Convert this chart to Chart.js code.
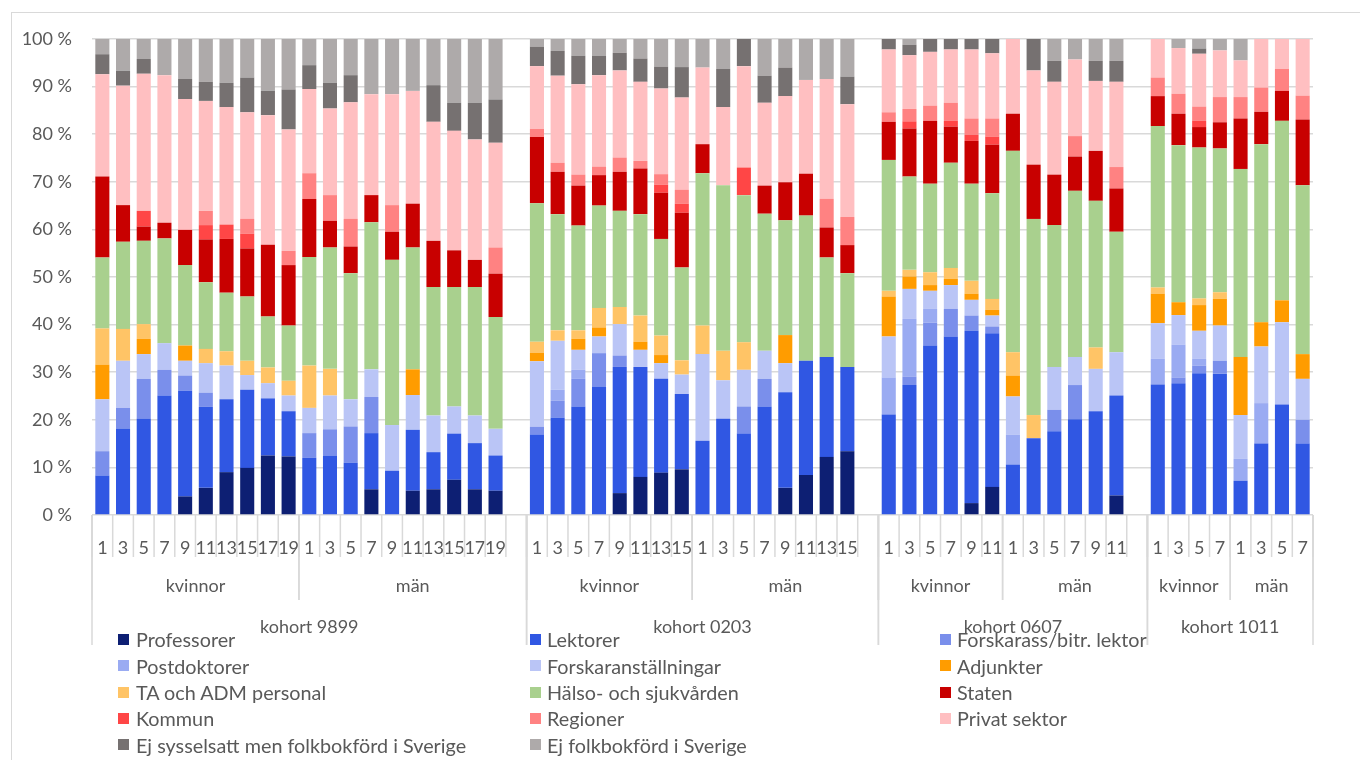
<!DOCTYPE html>
<html>
<head>
<meta charset="utf-8">
<script src="https://cdn.jsdelivr.net/npm/chart.js@4/dist/chart.umd.min.js"></script>
<style>
  body { margin: 0; background: #fff; font-family: Lato, sans-serif; }
  #wrap { position: relative; width: 1360px; height: 760px; overflow: hidden; }
  #frame { position: absolute; left: 11px; top: 12px; width: 1400px; height: 800px; border: 1px solid #D9D9D9; }
  canvas { position: absolute; left: 0; top: 0; }
  .item { position: absolute; font-size: 19.8px; color: #595959; white-space: nowrap; line-height: 22px; }
  .item i { position: absolute; left: 0; top: 5.5px; width: 11px; height: 11px; }
</style>
</head>
<body>
<div id="wrap">
  <div id="frame"></div>
  <canvas id="chart" width="1360" height="760"></canvas>
  <div id="legend"></div>
</div>
<script>
// Kategorier
const cohorts = ["kohort 9899", "kohort 0203", "kohort 0607", "kohort 1011"];
const genders = ["kvinnor", "män"];
const years9899 = ["1", "3", "5", "7", "9", "11", "13", "15", "17", "19"];
const years0203 = ["1", "3", "5", "7", "9", "11", "13", "15"];
const years0607 = ["1", "3", "5", "7", "9", "11"];
const years1011 = ["1", "3", "5", "7"];

// Andelar (%) per stapel: 9899 k/m, 0203 k/m, 0607 k/m, 1011 k/m
const professorer = [0,0,0,0,3.9,5.7,9.0,9.9,12.5,12.3, 0,0,0,5.4,0,5.1,5.4,7.4,5.4,5.1, 0,0,0,0,4.6,8.0,8.9,9.6, 0,0,0,0,5.7,8.4,12.2,13.4, 0,0,0,0,2.5,5.9, 0,0,0,0,0,4.1, 0,0,0,0, 0,0,0,0];
const lektorer = [8.3,18.1,20.2,25.1,22.2,17.0,15.3,16.4,12.0,9.5, 12.0,12.5,11.0,11.8,9.3,12.8,7.8,9.7,9.7,7.4, 16.9,20.5,22.8,27.0,26.5,23.1,19.7,15.8, 15.6,20.2,17.1,22.8,20.1,24.0,21.0,17.7, 21.1,27.3,35.6,37.5,36.2,32.3, 10.6,16.1,17.6,20.1,21.8,21.0, 27.4,27.7,29.8,29.7, 7.2,15.0,23.2,15.0];
const forskarass = [5.1,4.4,8.4,5.4,3.2,3.0,0,0,0,0, 5.2,5.5,7.6,7.6,0,0,0,0,0,0, 1.6,3.5,5.8,7.0,2.4,0,0,0, 0,0,5.7,5.8,0,0,0,0, 0,1.8,4.8,5.8,3.2,1.4, 0,0,4.5,7.2,0,0, 0,1.2,1.6,2.7, 0,0,0,5.0];
const postdoktorer = [0,0,0,0,0,0,0,0,0,0, 0,0,0,0,0,0,0,0,0,0, 0,2.3,1.9,0,0,0,0,0, 0,0,0,0,0,0,0,0, 7.8,12.1,2.9,0,0,0, 6.3,0,0,0,0,0, 5.4,6.9,1.4,0, 4.6,8.5,0,0];
const forskaranst = [10.9,9.9,5.2,5.6,3.1,6.2,7.1,3.1,3.2,3.3, 5.3,7.1,5.7,5.8,9.6,7.3,7.7,5.7,5.8,5.6, 13.8,10.3,4.2,3.5,6.6,3.6,3.3,4.1, 18.2,8.1,7.7,5.9,6.1,0,0,0, 8.6,6.3,3.8,5.0,3.3,2.3, 8.0,0,9.0,5.9,8.9,9.1, 7.5,6.2,5.9,7.4, 9.2,11.9,17.3,8.6];
const adjunkter = [7.3,0,3.2,0,3.2,0,0,0,0,0, 0,0,0,0,0,5.4,0,0,0,0, 1.8,0,2.3,1.9,0,1.7,1.7,0, 0,0,0,0,5.9,0,0,0, 8.4,2.6,1.2,1.3,1.3,1.2, 4.4,0,0,0,0,0, 6.2,2.7,5.4,5.6, 12.2,5.1,4.6,5.2];
const taAdm = [7.6,6.7,3.1,0,0,3.0,3.0,3.0,3.3,3.1, 8.9,5.6,0,0,0,0,0,0,0,0, 2.3,2.2,1.8,4.1,3.6,5.5,4.1,3.0, 6.0,6.2,5.8,0,0,0,0,0, 1.2,1.4,2.7,2.3,2.7,2.3, 4.9,4.9,0,0,4.5,0, 1.3,0,1.4,1.4, 0,0,0,0];
const halso = [14.9,18.3,17.5,22.0,16.9,14.0,12.3,13.5,10.7,11.6, 22.8,25.5,26.5,30.9,34.7,25.6,27.0,25.1,27.0,23.5, 29.1,24.4,22.0,21.5,20.2,21.3,20.3,19.5, 32.0,34.8,30.9,28.8,24.1,30.5,20.9,19.7, 27.5,19.6,18.6,22.1,20.4,22.2, 42.3,41.2,29.8,34.9,30.8,25.3, 33.9,33.0,31.7,30.2, 39.5,37.4,37.7,35.5];
const staten = [17.0,7.7,3.0,3.3,7.4,9.0,11.3,10.1,15.1,12.7, 12.2,5.6,5.6,5.7,5.9,9.2,9.7,7.7,5.7,9.1, 13.9,8.9,8.4,6.4,8.2,9.6,9.7,11.5, 6.1,0,0,5.9,8.0,8.8,6.3,5.9, 8.0,10.1,13.2,7.6,9.0,10.2, 7.8,11.4,10.6,7.2,10.5,9.1, 6.3,6.6,4.3,5.5, 10.6,6.8,6.3,13.8];
const kommun = [0,0,3.3,0,0,3.0,3.0,3.1,0,0, 0,0,0,0,0,0,0,0,0,0, 0,0,0,0,0,0,1.7,1.9, 0,0,5.8,0,0,0,0,0, 0,1.5,0,1.2,1.3,1.7, 0,0,0,0,0,0, 0,0,1.3,0, 0,0,0,0];
const regioner = [0,0,0,0,0,3.0,0,3.1,0,3.0, 5.4,5.4,5.8,0,5.6,0,0,0,0,5.5, 1.7,1.9,2.3,1.8,3.0,1.6,2.2,2.9, 0,0,0,0,0,0,6.0,5.9, 2.0,2.6,3.2,3.8,3.4,3.8, 0,0,0,4.3,0,4.5, 3.9,4.2,3.0,5.3, 4.5,5.1,4.6,5.0];
const privat = [21.5,25.1,28.8,31.0,27.5,23.1,24.7,22.4,27.2,25.5, 17.7,18.2,24.5,21.2,23.3,23.7,25.0,25.1,25.3,22.0, 13.2,18.3,19.0,19.2,18.3,16.6,18.0,19.4, 16.1,16.4,21.3,17.4,18.1,19.7,25.2,23.7, 13.2,11.3,11.3,11.2,14.5,13.7, 15.7,19.8,19.5,16.1,14.7,17.9, 8.1,9.6,11.1,9.8, 7.7,10.2,6.3,11.9];
const ejSysselsatt = [4.2,3.1,3.1,0,4.2,4.0,5.1,7.3,5.1,8.4, 5.0,5.4,5.7,0,0,0,7.7,5.9,7.7,9.1, 4.1,5.2,6.0,4.1,3.7,4.9,4.6,6.4, 0,8.0,5.7,5.7,6.0,0,0,5.8, 2.2,2.2,2.7,2.2,2.2,3.0, 0,6.6,4.4,0,4.2,4.4, 0,0,1.1,0, 0,0,0,0];
const ejFolkbokford = [3.2,6.7,4.2,7.6,8.4,9.0,9.2,8.1,10.9,10.6, 5.5,9.2,7.6,11.6,11.6,10.9,9.7,13.4,13.4,12.7, 1.6,2.5,3.5,3.5,2.9,4.1,5.8,5.9, 6.0,6.3,0,7.7,6.0,8.6,8.4,7.9, 0,1.2,0,0,0,0, 0,0,4.6,4.3,4.6,4.6, 0,1.9,2.0,2.4, 4.5,0,0,0];

const series = [
  { label: "Professorer", data: professorer, color: "#0D1F73" },
  { label: "Lektorer", data: lektorer, color: "#3057E3" },
  { label: "Forskarass/bitr. lektor", data: forskarass, color: "#7A8FEB" },
  { label: "Postdoktorer", data: postdoktorer, color: "#9AABF2" },
  { label: "Forskaranställningar", data: forskaranst, color: "#BAC5F6" },
  { label: "Adjunkter", data: adjunkter, color: "#FF9C00" },
  { label: "TA och ADM personal", data: taAdm, color: "#FFC466" },
  { label: "Hälso- och sjukvården", data: halso, color: "#A9D08E" },
  { label: "Staten", data: staten, color: "#C80000" },
  { label: "Kommun", data: kommun, color: "#FF4646" },
  { label: "Regioner", data: regioner, color: "#FF8282" },
  { label: "Privat sektor", data: privat, color: "#FFBFC1" },
  { label: " Ej sysselsatt men folkbokförd i Sverige", data: ejSysselsatt, color: "#767171" },
  { label: "Ej folkbokförd i Sverige", data: ejFolkbokford, color: "#AEAAAA" },
];

// Bygg kategoriaxeln med en tom plats mellan kohorterna
const cohortYears = [years9899, years0203, years0607, years1011];
const labels = [];
const genderSpans = [];
const cohortSpans = [];
cohortYears.forEach((yrs, c) => {
  const cStart = labels.length;
  genders.forEach((g, gi) => {
    const gStart = labels.length;
    labels.push(...yrs);
    if (gi === 1 && c < cohortYears.length - 1) labels.push("");
    genderSpans.push({ label: g, start: gStart, end: labels.length });
  });
  cohortSpans.push({ label: cohorts[c], start: cStart, end: labels.length });
});

function withGaps(arr) {
  const out = [];
  let k = 0;
  labels.forEach((l) => {
    out.push(l === "" ? null : arr[k++]);
  });
  return out;
}

const textColor = "#595959";
const lineColor = "#D9D9D9";
const font = "Lato, sans-serif";

// Linjer och gruppetiketter under x-axeln
const groupAxis = {
  id: "groupAxis",
  afterDraw(chart) {
    const x = chart.scales.x;
    const ctx = chart.ctx;
    const slot = x.getPixelForValue(1) - x.getPixelForValue(0);
    const edge = (i) => x.getPixelForValue(i) - slot / 2;
    const base = chart.chartArea.bottom;

    ctx.save();
    ctx.strokeStyle = lineColor;
    ctx.lineWidth = 1.5;
    const vline = (px, len) => {
      ctx.beginPath();
      ctx.moveTo(px, base);
      ctx.lineTo(px, base + len);
      ctx.stroke();
    };
    for (let i = 0; i <= labels.length; i++) vline(edge(i), 42);
    genderSpans.forEach((s) => { vline(edge(s.start), 85); vline(edge(s.end), 85); });
    cohortSpans.forEach((s) => { vline(edge(s.start), 130); vline(edge(s.end), 130); });

    ctx.fillStyle = textColor;
    ctx.font = "18px " + font;
    ctx.textAlign = "center";
    ctx.textBaseline = "middle";
    genderSpans.forEach((s) => {
      ctx.fillText(s.label, (edge(s.start) + edge(s.end)) / 2, base + 71);
    });
    cohortSpans.forEach((s) => {
      ctx.fillText(s.label, (edge(s.start) + edge(s.end)) / 2, base + 112);
    });
    ctx.restore();
  },
};

new Chart(document.getElementById("chart"), {
  type: "bar",
  data: {
    labels: labels,
    datasets: series.map((s) => ({
      label: s.label,
      data: withGaps(s.data),
      backgroundColor: s.color,
      borderWidth: 0,
      barPercentage: 0.68,
      categoryPercentage: 1.0,
    })),
  },
  options: {
    responsive: false,
    animation: false,
    layout: { padding: { top: 39, right: 47, bottom: 0, left: 0 } },
    plugins: {
      legend: { display: false },
      tooltip: { enabled: false },
    },
    scales: {
      x: {
        stacked: true,
        afterFit: (scale) => { scale.height = 245; },
        grid: { display: false },
        border: { display: false },
        ticks: {
          autoSkip: false,
          maxRotation: 0,
          minRotation: 0,
          padding: 14,
          color: textColor,
          font: { family: font, size: 18 },
        },
      },
      y: {
        stacked: true,
        min: 0,
        max: 100,
        afterFit: (scale) => { scale.width = 92; },
        grid: { color: lineColor, lineWidth: 1.5, drawTicks: false },
        border: { display: false },
        ticks: {
          stepSize: 10,
          padding: 20,
          color: textColor,
          font: { family: font, size: 18 },
          callback: (v) => v + " %",
        },
      },
    },
  },
  plugins: [groupAxis],
});

// Förklaring i tre kolumner
const legendCols = [118, 530, 940];
const legendTextOffset = [18, 17, 17];
const legendRows = [639, 665.5, 692, 718, 744.5];
const legend = document.getElementById("legend");
series.forEach((s, i) => {
  const col = i % 3;
  const row = Math.floor(i / 3);
  const el = document.createElement("div");
  el.className = "item";
  el.style.left = legendCols[col] + "px";
  el.style.top = legendRows[row] - 11 + "px";
  el.style.paddingLeft = legendTextOffset[col] + "px";
  el.innerHTML = '<i style="background:' + s.color + '"></i>';
  el.appendChild(document.createTextNode(s.label));
  legend.appendChild(el);
});
</script>
</body>
</html>
